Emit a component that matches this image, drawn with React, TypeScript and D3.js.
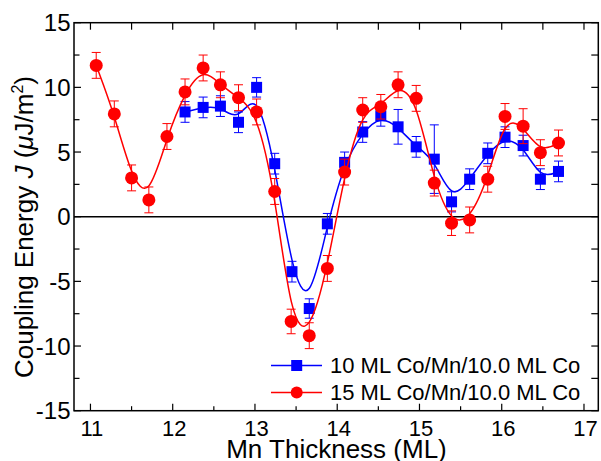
import React from "react";
import * as d3 from "d3";

// Mn thickness (ML) for the 15 ML Co series
const redThickness = [11.07, 11.29, 11.5, 11.71, 11.93, 12.15, 12.37, 12.58, 12.8, 13.02, 13.24, 13.44, 13.66, 13.88, 14.09, 14.31, 14.53, 14.74, 14.96, 15.18, 15.39, 15.61, 15.83, 16.04, 16.26, 16.47, 16.69];
const redJ = [11.7, 7.95, 3.0, 1.3, 6.2, 9.65, 11.5, 10.2, 9.2, 8.1, 1.95, -8.1, -9.2, -4.0, 3.45, 8.25, 8.5, 10.2, 9.15, 2.6, -0.5, -0.25, 2.9, 7.75, 7.0, 4.95, 5.7];
const redErr = [1.0, 1.0, 1.0, 1.0, 1.0, 1.0, 1.0, 1.0, 1.0, 1.0, 1.0, 0.95, 1.0, 1.0, 1.0, 0.95, 0.95, 1.0, 1.0, 1.0, 0.95, 1.0, 1.0, 1.0, 1.35, 1.0, 1.0];

// Mn thickness (ML) for the 10 ML Co series
const blueThickness = [12.15, 12.37, 12.58, 12.8, 13.02, 13.24, 13.45, 13.66, 13.88, 14.09, 14.31, 14.53, 14.74, 14.96, 15.18, 15.39, 15.61, 15.83, 16.04, 16.26, 16.47, 16.69];
const blueJ = [8.1, 8.45, 8.55, 7.3, 10.0, 4.1, -4.25, -7.1, -0.55, 4.2, 6.55, 7.8, 6.95, 5.4, 4.45, 1.15, 2.9, 4.9, 6.15, 5.5, 2.9, 3.5];
const blueErr = [0.8, 0.8, 0.8, 0.8, 0.75, 0.8, 0.8, 0.75, 0.8, 0.8, 0.8, 0.8, 1.34, 0.8, 2.65, 0.78, 0.8, 0.8, 0.8, 0.8, 0.8, 0.8];

const xTicksMajor = [11, 12, 13, 14, 15, 16, 17];
const xTicksMinor = [11.5, 12.5, 13.5, 14.5, 15.5, 16.5];
const yTicksMajor = [-15, -10, -5, 0, 5, 10, 15];
const yTicksMinor = [-12.5, -7.5, -2.5, 2.5, 7.5, 12.5];

const legendLabels = ["10 ML Co/Mn/10.0 ML Co", "15 ML Co/Mn/10.0 ML Co"];

const BLUE = "#0000ff";
const RED = "#ff0000";
const FONT = "'Liberation Sans', Arial, sans-serif";

export default function App() {
  const W = 601, H = 461;
  const left = 74, right = 598.3, top = 22.7, bottom = 410.7;
  const x = d3.scaleLinear().domain([10.8, 17.174]).range([left, right]);
  const y = d3.scaleLinear().domain([-15, 15]).range([bottom, top]);

  const line = d3
    .line<[number, number]>()
    .x((d) => x(d[0]))
    .y((d) => y(d[1]))
    .curve(d3.curveBasis);

  const redPts: [number, number][] = redThickness.map((t, i) => [t, redJ[i]]);
  const bluePts: [number, number][] = blueThickness.map((t, i) => [t, blueJ[i]]);

  const cap = 4.5;
  const errBars = (xs: number[], ys: number[], es: number[], color: string) =>
    xs.map((t, i) => {
      const cx = x(t);
      const y1 = y(ys[i] + es[i]);
      const y2 = y(ys[i] - es[i]);
      return (
        <g key={i} stroke={color} strokeWidth={1}>
          <line x1={cx} x2={cx} y1={y1} y2={y2} />
          <line x1={cx - cap} x2={cx + cap} y1={y1} y2={y1} />
          <line x1={cx - cap} x2={cx + cap} y1={y2} y2={y2} />
        </g>
      );
    });

  const sq = 11;
  const rCirc = 6.5;
  const tickMaj = 7, tickMin = 4.5;

  return (
    <svg width={W} height={H} style={{ position: "absolute", left: 0, top: 0, background: "#fff" }} fontFamily={FONT}>
      <rect x={0} y={0} width={W} height={H} fill="#fff" />
      {/* zero line */}
      <line x1={left} x2={right} y1={y(0)} y2={y(0)} stroke="#000" strokeWidth={1.5} />

      {/* blue series */}
      <path d={line(bluePts) || ""} fill="none" stroke={BLUE} strokeWidth={1.5} />
      {errBars(blueThickness, blueJ, blueErr, BLUE)}
      {bluePts.map((p, i) => (
        <rect key={i} x={x(p[0]) - sq / 2} y={y(p[1]) - sq / 2} width={sq} height={sq} fill={BLUE} />
      ))}

      {/* red series */}
      <path d={line(redPts) || ""} fill="none" stroke={RED} strokeWidth={1.5} />
      {errBars(redThickness, redJ, redErr, RED)}
      {redPts.map((p, i) => (
        <circle key={i} cx={x(p[0])} cy={y(p[1])} r={rCirc} fill={RED} />
      ))}

      {/* frame */}
      <rect x={left} y={top} width={right - left} height={bottom - top} fill="none" stroke="#000" strokeWidth={1.5} />

      {/* x ticks */}
      {xTicksMajor.map((t) => (
        <g key={"xM" + t} stroke="#000" strokeWidth={1.2}>
          <line x1={x(t)} x2={x(t)} y1={bottom} y2={bottom - tickMaj} />
          <line x1={x(t)} x2={x(t)} y1={top} y2={top + tickMaj} />
        </g>
      ))}
      {xTicksMinor.map((t) => (
        <g key={"xm" + t} stroke="#000" strokeWidth={1.2}>
          <line x1={x(t)} x2={x(t)} y1={bottom} y2={bottom - tickMin} />
          <line x1={x(t)} x2={x(t)} y1={top} y2={top + tickMaj} />
        </g>
      ))}
      {/* y ticks */}
      {yTicksMajor.map((t) => (
        <g key={"yM" + t} stroke="#000" strokeWidth={1.2}>
          <line x1={left} x2={left + tickMaj} y1={y(t)} y2={y(t)} />
          <line x1={right} x2={right - tickMaj} y1={y(t)} y2={y(t)} />
        </g>
      ))}
      {yTicksMinor.map((t) => (
        <g key={"ym" + t} stroke="#000" strokeWidth={1.2}>
          <line x1={left} x2={left + tickMin + 1} y1={y(t)} y2={y(t)} />
          <line x1={right} x2={right - tickMaj} y1={y(t)} y2={y(t)} />
        </g>
      ))}

      {/* tick labels */}
      {xTicksMajor.map((t) => (
        <text key={"xl" + t} x={x(t) + 1.5} y={435.7} fontSize={22} textAnchor="middle" fill="#000">
          {t}
        </text>
      ))}
      {yTicksMajor.map((t) => (
        <text key={"yl" + t} x={70.5} y={y(t) + 8.6} fontSize={24} textAnchor="end" fill="#000">
          {t}
        </text>
      ))}

      {/* axis titles */}
      <text x={336.5} y={458} fontSize={26} textAnchor="middle" fill="#000">
        Mn Thickness (ML)
      </text>
      <text transform="translate(33,227) rotate(-90)" fontSize={26} textAnchor="middle" fill="#000">
        Coupling Energy <tspan fontStyle="italic">J</tspan> (<tspan fontStyle="italic">μ</tspan>J/m
        <tspan fontSize={16} dy={-10}>2</tspan>
        <tspan dy={10}>)</tspan>
      </text>

      {/* legend */}
      <g>
        <line x1={271} x2={322} y1={365.5} y2={365.5} stroke={BLUE} strokeWidth={1.5} />
        <rect x={296.7 - sq / 2} y={365.5 - sq / 2} width={sq} height={sq} fill={BLUE} />
        <text x={330} y={372.5} fontSize={22} fill="#000">{legendLabels[0]}</text>
        <line x1={271} x2={322} y1={392.5} y2={392.5} stroke={RED} strokeWidth={1.5} />
        <circle cx={296.7} cy={392.5} r={6} fill={RED} />
        <text x={330} y={399.5} fontSize={22} fill="#000">{legendLabels[1]}</text>
      </g>
    </svg>
  );
}
